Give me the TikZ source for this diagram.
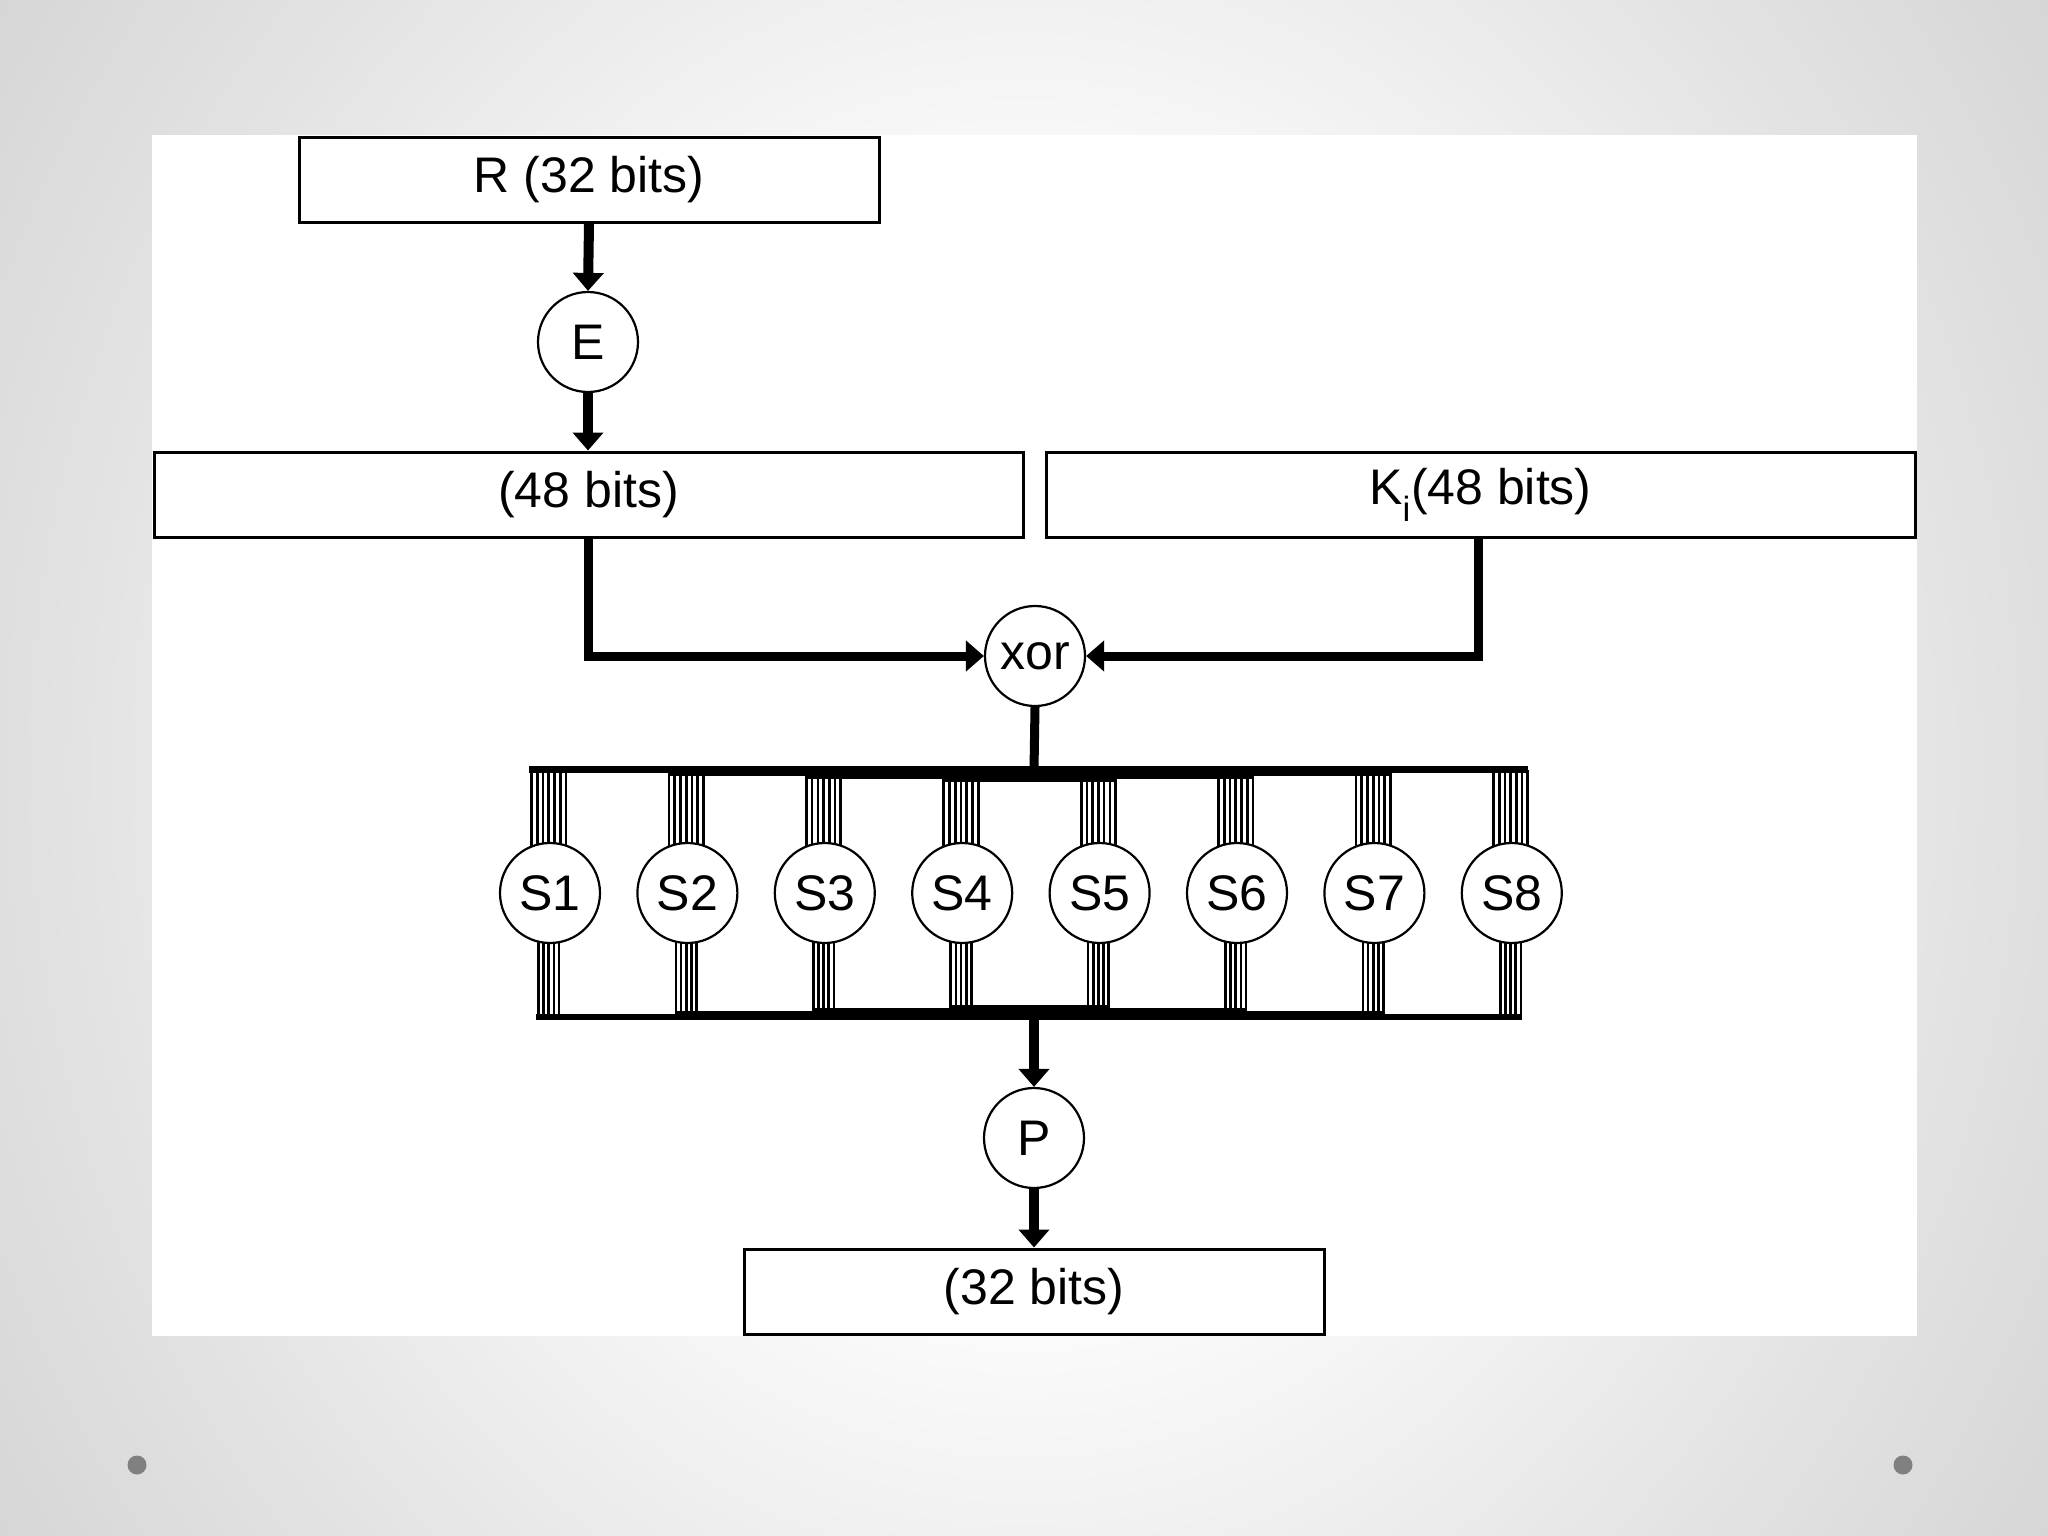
\documentclass[tikz,border=0pt]{standalone}
\usepackage{fontspec}
\setmainfont{Liberation Sans}
\usetikzlibrary{arrows.meta}
\definecolor{bgA}{RGB}{244,244,244}
\definecolor{bgB}{RGB}{227,227,227}
\definecolor{bgC}{RGB}{214,214,214}
\definecolor{dotgray}{RGB}{128,128,128}
\pgfdeclareradialshading{bgshade}{\pgfpoint{0bp}{0bp}}{color(0bp)=(white); color(10bp)=(white); color(15bp)=(bgA); color(23bp)=(bgB); color(30bp)=(bgC); color(50bp)=(bgC)}
\tikzset{
  box/.style={draw, line width=3pt, fill=white, minimum height=85pt, inner sep=0pt, font=\fontsize{50}{60}\selectfont},
  op/.style={draw, circle, line width=2.2pt, fill=white, minimum size=100pt, inner sep=0pt, font=\fontsize{50}{60}\selectfont},
  flow/.style={line width=10pt, -{Triangle[width=30pt,length=18pt]}},
  wire/.style={line width=9pt},
  busline/.style={line width=2.7pt},
}
\begin{document}
\begin{tikzpicture}[x=1pt,y=-1pt]
\useasboundingbox (0,0) rectangle (2048,1536);
\shade[shading=bgshade] (0,-400) rectangle (2048,1936);
\fill[white] (152,135) rectangle (1917,1336);
\fill[dotgray] (137,1465) circle (9.5);
\fill[dotgray] (1903,1465) circle (9.5);

% boxes
\node[box, minimum width=580pt] (R) at (589,180) {R (32 bits)};
\node[box, minimum width=869pt] (b48) at (588.5,494.5) {(48 bits)};
\node[box, minimum width=869pt] (K) at (1480.5,494.5) {K\textsubscript{i}(48 bits)};
\node[box, minimum width=580pt] (out) at (1034,1291.5) {(32 bits)};

% bus bars
\coordinate (topbar) at (1034,770);
\coordinate (botbar) at (1034,1016);
\fill (529,766) rectangle (668,773);
\fill (668,766) rectangle (805,776);
\fill (805,766) rectangle (943,779);
\fill (943,766) rectangle (1116,782);
\fill (1116,766) rectangle (1253,779);
\fill (1253,766) rectangle (1390,776);
\fill (1390,766) rectangle (1528,773);
\fill (536,1014) rectangle (675,1020);
\fill (675,1011) rectangle (812,1020);
\fill (812,1008) rectangle (950,1020);
\fill (950,1005) rectangle (1110,1020);
\fill (1110,1008) rectangle (1247,1020);
\fill (1247,1011) rectangle (1384,1020);
\fill (1384,1014) rectangle (1522,1020);

% bundles
\foreach \cx in {550,687.4,824.8,962.2,1099.6,1237,1374.4,1511.8}{
  \foreach \k in {0,...,6}{
    \draw[busline] ({\cx-18.4+\k*34.4/6},770) -- ({\cx-18.4+\k*34.4/6},893);
  }
  \foreach \k in {0,...,4}{
    \draw[busline] ({\cx-11.5+\k*20.6/4},893) -- ({\cx-11.5+\k*20.6/4},1016);
  }
}

% operation circles
\node[op] (E) at (588,342) {E};
\node[op] (xor) at (1035,656) {xor};
\node[op] (P) at (1034,1138) {P};
\foreach \i/\cx in {1/550,2/687.4,3/824.8,4/962.2,5/1099.6,6/1237,7/1374.4,8/1511.8}{
  \node[op] (S\i) at (\cx,893) {S\i};
}

% connectors
\draw[flow] (R.south) -- (E.north);
\draw[flow] (E.south) -- (b48.north -| E.south);
\draw[wire, -{Triangle[width=30pt,length=18pt]}] (b48.south) |- (xor.west);
\draw[wire, -{Triangle[width=30pt,length=18pt]}] ([xshift=-2.5pt]K.south) |- (xor.east);
\draw[wire] (xor.south) -- (topbar);
\draw[flow] (botbar) -- (P.north);
\draw[flow] (P.south) -- (out.north);
\end{tikzpicture}
\end{document}
